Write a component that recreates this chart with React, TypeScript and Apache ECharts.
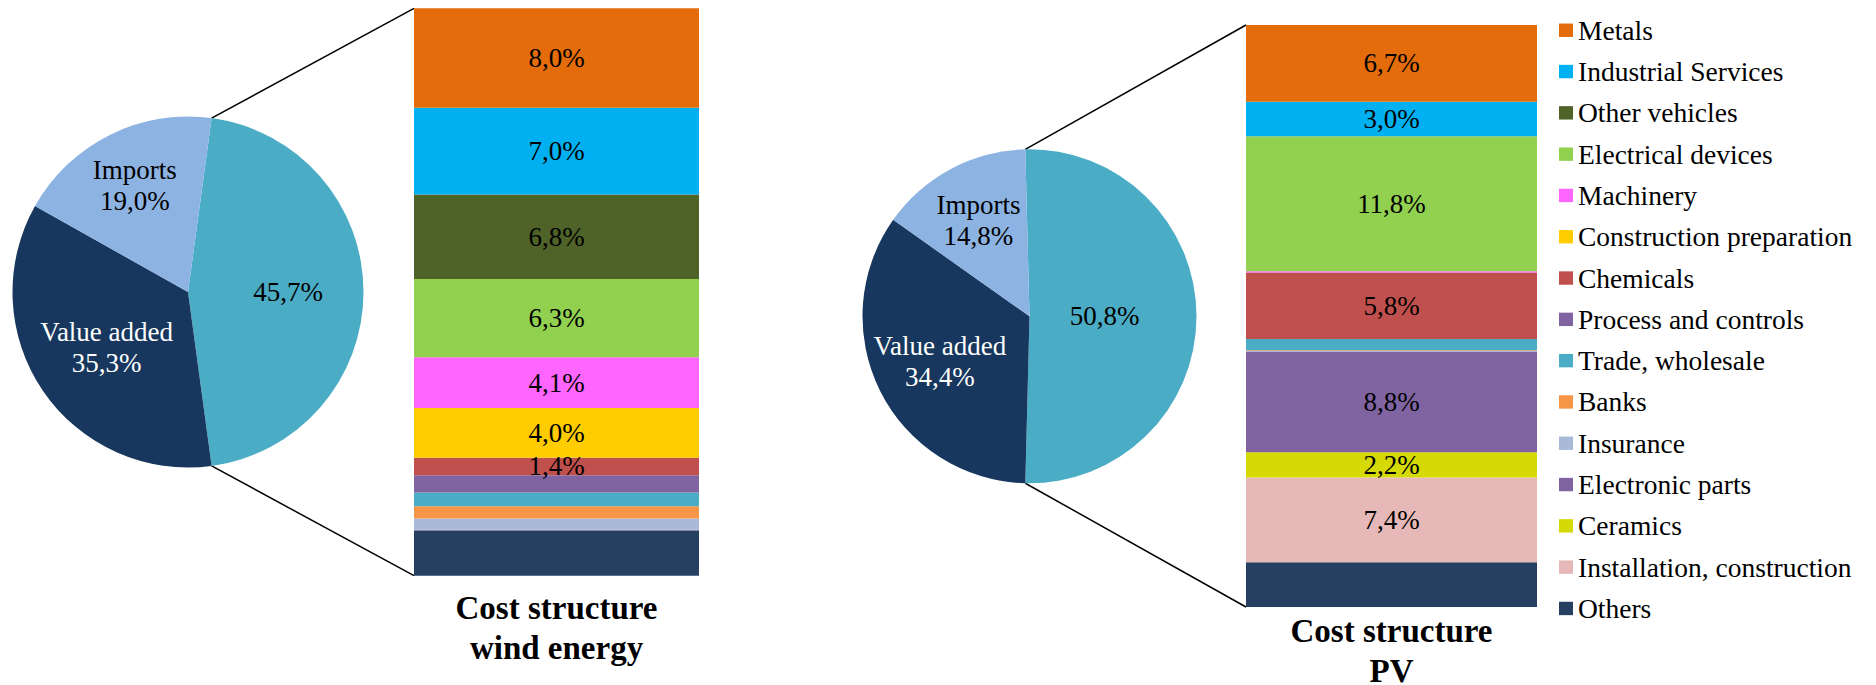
import React, { useEffect, useRef } from 'react';
import * as echarts from 'echarts';

// ---------- data ----------
const categories = [
  'Metals', 'Industrial Services', 'Other vehicles', 'Electrical devices', 'Machinery',
  'Construction preparation', 'Chemicals', 'Process and controls', 'Trade, wholesale', 'Banks',
  'Insurance', 'Electronic parts', 'Ceramics', 'Installation, construction', 'Others',
];
const windValues = [8.0, 7.0, 6.8, 6.3, 4.1, 4.0, 1.4, 1.4, 1.1, 1.0, 0.9, 0.05, 0, 0, 3.65];
const windLabeled = [true, true, true, true, true, true, true, false, false, false, false, false, false, false, false];
const pvValues = [6.7, 3.0, 0, 11.8, 0.1, 0, 5.8, 0, 1.0, 0.05, 0.05, 8.8, 2.2, 7.4, 3.9];
const pvLabeled = [true, true, false, true, false, false, true, false, false, false, false, true, true, true, false];

const pieNames = ['Domestic inputs', 'Value added', 'Imports'];
const windPie = [45.7, 35.3, 19.0];
const pvPie = [50.8, 34.4, 14.8];
const titles = ['Cost structure\nwind energy', 'Cost structure\nPV'];

// ---------- styles ----------
const categoryColors = [
  '#E46C0A', '#00B0F0', '#4F6228', '#92D050', '#FF66FF', '#FFCC00', '#C0504D', '#8064A2',
  '#4BACC6', '#F79646', '#A9BAD8', '#8064A2', '#D5DA06', '#E6B9B8', '#254061',
];
const pieColors = ['#4BACC6', '#17375E', '#8DB3E2'];
const pieLabelColors = ['#000', '#fff', '#000'];
const SERIF = 'Liberation Serif';

const grids = [
  { left: 414, top: 8.3, width: 285, height: 567.4 },
  { left: 1246, top: 25, width: 291, height: 582 },
];
const pies = [
  { cx: 188, cy: 292, r: 175.5, labelFrac: [0.57, 0.56, 0.68] },
  { cx: 1029.5, cy: 316.3, r: 167, labelFrac: [0.45, 0.6, 0.65] },
];
const titleTops = [588, 611];

const pct = (v: number) => v.toFixed(1).replace('.', ',') + '%';
const sum = (a: number[]) => a.reduce((s, v) => s + v, 0);

export default function App() {
  const ref = useRef<HTMLDivElement>(null);
  useEffect(() => {
    document.body.style.margin = '0';
    const chart = echarts.init(ref.current!, null, { renderer: 'svg' });

    const barSets = [
      { vals: windValues, labeled: windLabeled },
      { vals: pvValues, labeled: pvLabeled },
    ];
    const pieSets = [windPie, pvPie];

    const series: any[] = [];
    barSets.forEach((set, g) => {
      const s = categories.map((name, i) => ({
        name,
        type: 'bar',
        xAxisIndex: g,
        yAxisIndex: g,
        stack: 'stack' + g,
        barWidth: '100%',
        data: [set.vals[i]],
        itemStyle: { color: categoryColors[i] },
        label: {
          show: set.labeled[i],
          position: 'inside',
          formatter: (p: any) => pct(p.value),
          color: '#000',
          fontSize: 27,
          fontFamily: SERIF,
        },
        emphasis: { disabled: true },
      }));
      series.push(...s.reverse());
    });

    const graphics: any[] = [];
    pieSets.forEach((vals, k) => {
      const P = pies[k];
      const total = sum(vals);
      const start = (360 * vals[0]) / total / 2;
      const mids: number[] = [];
      let cum = 0;
      vals.forEach((v) => {
        mids.push(start - (360 * (cum + v / 2)) / total);
        cum += v;
      });
      series.push({
        type: 'pie',
        center: [P.cx, P.cy],
        radius: P.r,
        startAngle: start,
        clockwise: true,
        avoidLabelOverlap: false,
        silent: true,
        emphasis: { disabled: true },
        data: vals.map((v, i) => ({
          name: pieNames[i],
          value: v,
          itemStyle: { color: pieColors[i] },
          label: { color: pieLabelColors[i] },
        })),
        label: {
          show: true,
          position: 'inside',
          fontSize: 27,
          lineHeight: 31,
          fontFamily: SERIF,
          formatter: (p: any) => (p.dataIndex === 0 ? pct(p.value) : p.name + '\n' + pct(p.value)),
        },
        labelLine: { show: false },
        labelLayout: (p: any) => {
          const a = (mids[p.dataIndex] * Math.PI) / 180;
          const f = P.labelFrac[p.dataIndex];
          return {
            x: P.cx + f * P.r * Math.cos(a),
            y: P.cy - f * P.r * Math.sin(a),
            align: 'center',
            verticalAlign: 'middle',
          };
        },
      });
      // connector lines from slice boundaries to bar corners
      const a0 = (start * Math.PI) / 180;
      const a1 = ((start - (360 * vals[0]) / total) * Math.PI) / 180;
      const G = grids[k];
      graphics.push({
        type: 'line',
        silent: true,
        shape: { x1: P.cx + P.r * Math.cos(a0), y1: P.cy - P.r * Math.sin(a0), x2: G.left, y2: G.top },
        style: { stroke: '#000', lineWidth: 1.5 },
      });
      graphics.push({
        type: 'line',
        silent: true,
        shape: { x1: P.cx + P.r * Math.cos(a1), y1: P.cy - P.r * Math.sin(a1), x2: G.left, y2: G.top + G.height },
        style: { stroke: '#000', lineWidth: 1.5 },
      });
      graphics.push({
        type: 'text',
        silent: true,
        x: G.left + G.width / 2,
        y: titleTops[k],
        style: {
          text: titles[k],
          fontSize: 33,
          fontWeight: 'bold',
          fontFamily: SERIF,
          fill: '#000',
          textAlign: 'center',
          textVerticalAlign: 'top',
          lineHeight: 40,
        },
      });
    });

    chart.setOption({
      animation: false,
      backgroundColor: '#fff',
      textStyle: { fontFamily: SERIF },
      grid: grids.map((g) => ({ ...g, containLabel: false })),
      xAxis: grids.map((_, g) => ({ type: 'category', gridIndex: g, data: [''], show: false })),
      yAxis: [
        { type: 'value', gridIndex: 0, min: 0, max: sum(windValues), show: false },
        { type: 'value', gridIndex: 1, min: 0, max: sum(pvValues), show: false },
      ],
      legend: {
        data: categories,
        orient: 'vertical',
        left: 1559,
        top: 16.25,
        padding: 0,
        itemWidth: 14,
        itemHeight: 13.4,
        itemGap: 13.3,
        selectedMode: false,
        icon: 'rect',
        textStyle: { fontSize: 27.5, lineHeight: 27.5, fontFamily: SERIF, color: '#000' },
      },
      series,
      graphic: graphics,
    });
    return () => chart.dispose();
  }, []);
  return <div ref={ref} style={{ width: 1876, height: 685 }} />;
}
